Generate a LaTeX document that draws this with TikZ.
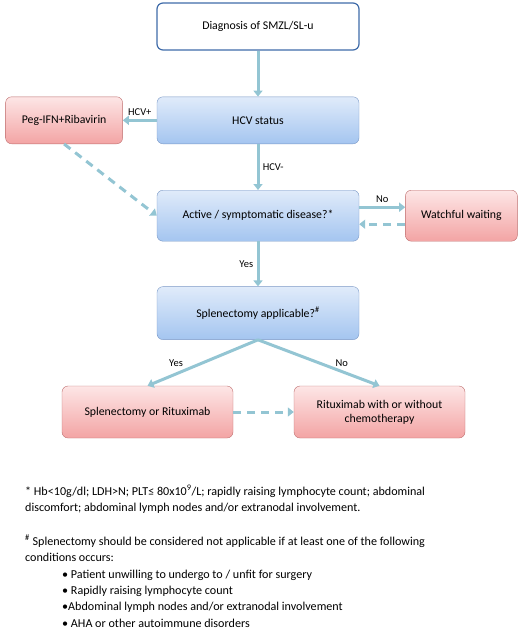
\documentclass[tikz,border=0pt]{standalone}
\usepackage{fontspec}
\setmainfont{Carlito}
\usetikzlibrary{positioning,arrows.meta}
\definecolor{flowline}{HTML}{93C5D3}
\definecolor{diagblue}{HTML}{3F6BA9}
\definecolor{blueedge}{HTML}{7A98C6}
\definecolor{bluetop}{HTML}{E0EBFA}
\definecolor{bluebottom}{HTML}{A4C5F0}
\definecolor{rededge}{HTML}{BE6E6E}
\definecolor{redtop}{HTML}{FDE6E6}
\definecolor{redbottom}{HTML}{F3A4A4}

\begin{document}
\begin{tikzpicture}[x=1pt, y=1pt, node distance=46pt, >={Triangle[width=9pt,length=6pt]},
  box/.style={rectangle, rounded corners=6pt, draw, minimum width=202pt, minimum height=47pt, align=center, font=\fontsize{11.8}{14}\selectfont},
  bluebox/.style={box, draw=blueedge, top color=bluetop, bottom color=bluebottom},
  redbox/.style={box, draw=rededge, top color=redtop, bottom color=redbottom},
  flow/.style={->, draw=flowline, line width=3pt},
  dashflow/.style={flow, dash pattern=on 8pt off 6pt},
  lbl/.style={font=\fontsize{10.5}{12}\selectfont},
  note/.style={anchor=north west, inner sep=0pt, align=left, font=\fontsize{12.1}{16.4}\selectfont}]

    \useasboundingbox (0,0) rectangle (520,-633);

    \node[box, draw=diagblue, line width=1.2pt, fill=white] (diag) at (258,-26.5) {Diagnosis of SMZL/SL-u};
    \node[bluebox, below=of diag] (hcv) {HCV status};
    \node[redbox, left=34pt of hcv, minimum width=117pt] (peg) {Peg-IFN+Ribavirin};
    \node[bluebox, below=of hcv, minimum height=51pt] (active) {Active / symptomatic disease?*};
    \node[redbox, right=of active, minimum width=112pt, minimum height=51pt] (wait) {Watchful waiting};
    \node[bluebox, below=45pt of active, minimum height=53pt] (splen) {Splenectomy applicable?\textsuperscript{\#}};
    \node[redbox, below=of splen, xshift=-110.5pt, minimum width=171pt, minimum height=52pt] (splenrit) {Splenectomy or Rituximab};
    \node[redbox, below=of splen, xshift=121.5pt, minimum width=171pt, minimum height=52pt] (rit) {Rituximab with or without\\chemotherapy};

    \draw[flow] (diag) -- (hcv);
    \draw[flow] (hcv) -- node[lbl, above] {HCV+} (peg);
    \draw[flow] (hcv) -- node[lbl, right] {HCV-} (active);
    \draw[dashflow] (peg.south) -- (active.west);
    \draw[flow] ([yshift=8.5pt]active.east) -- node[lbl, above] {No} ([yshift=8.5pt]wait.west);
    \draw[dashflow] ([yshift=-8.5pt]wait.west) -- ([yshift=-8.5pt]active.east);
    \draw[flow] (active) -- node[lbl, left] {Yes} (splen);
    \draw[flow] (splen.south) -- node[lbl, left=15pt] {Yes} (splenrit.north);
    \draw[flow] (splen.south) -- node[lbl, right=12pt] {No} (rit.north);
    \draw[dashflow] (splenrit) -- (rit);

    % footnotes
    \node[note] (asterisknote) at (25,-485) {* Hb<10g/dl; LDH>N; PLT≤ 80x10\textsuperscript{9}/L; rapidly raising lymphocyte count; abdominal\\discomfort; abdominal lymph nodes and/or extranodal involvement.};
    \node[note] (hashnote) at (25,-535) {\textsuperscript{\#} Splenectomy should be considered not applicable if at least one of the following\\conditions occurs:\\
      \hspace*{37pt}• Patient unwilling to undergo to / unfit for surgery\\
      \hspace*{37pt}• Rapidly raising lymphocyte count\\
      \hspace*{37pt}•Abdominal lymph nodes and/or extranodal involvement\\
      \hspace*{37pt}• AHA or other autoimmune disorders};

\end{tikzpicture}
\end{document}
